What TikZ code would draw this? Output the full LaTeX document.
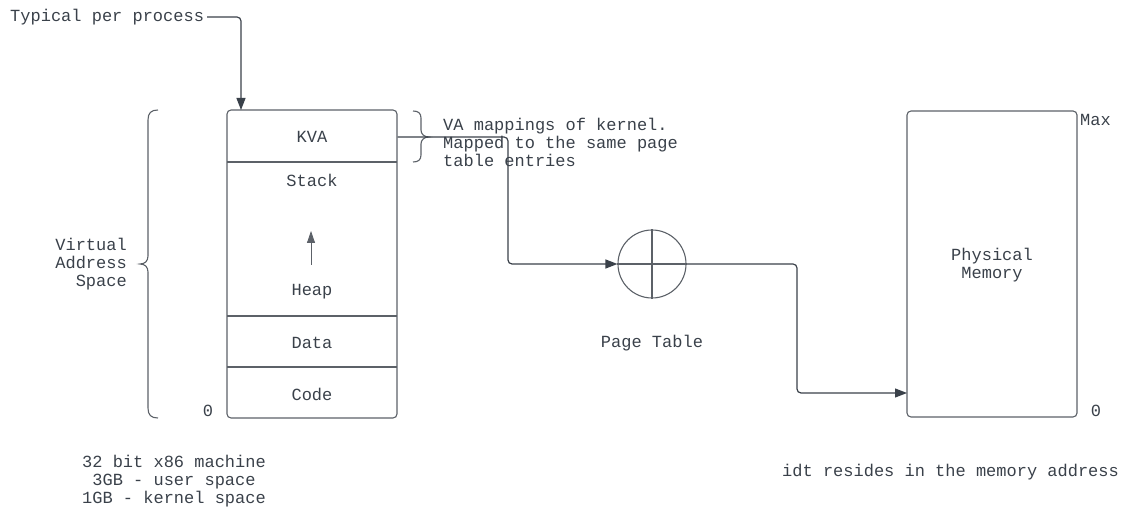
\documentclass[tikz,border=0pt]{standalone}
\usepackage{fontspec}
\setmainfont{Liberation Mono}
\usetikzlibrary{arrows.meta}
\definecolor{ink}{HTML}{3A414A}
\definecolor{edge}{HTML}{5C6168}
\tikzset{
  every node/.style={font=\fontsize{17}{18}\selectfont, text=ink, inner sep=0pt},
  memblock/.style={draw=edge, line width=1.1pt, rounded corners=4pt, minimum width=170pt},
  divider/.style={draw=edge, line width=1.1pt},
  conn/.style={draw=ink, line width=1.2pt, rounded corners=4pt, -{Triangle[length=12pt,width=9pt]}},
  bracket/.style={draw=edge, line width=1.1pt},
  growarrow/.style={draw=edge, line width=0.8pt, -{Triangle[length=12pt,width=8pt]}},
  lbl/.style={align=center}
}
\begin{document}
\begin{tikzpicture}[x=1pt, y=-1pt]
\useasboundingbox (0,0) rectangle (1122,510);

% process address-space column
\node[memblock, minimum height=308pt] (proc) at (312,264) {};
\draw[divider] (227,162) -- (397,162);
\draw[divider] (227,316) -- (397,316);
\draw[divider] (227,367) -- (397,367);
\node (kva) at (312,137) {KVA};
\node (stack) at (312,180) {Stack};
\node (heap) at (312,292) {Heap};
\node (data) at (312,343) {Data};
\node (code) at (312,394) {Code};
\coordinate (heapgrow) at (311,265);
\coordinate (stackgrow) at (311,231);
\draw[growarrow] (heapgrow) -- (stackgrow);
\node (zeroL) at (208,411) {0};

% brace for the whole virtual address space
\draw[bracket] (158,110) .. controls (151,110) and (148,113) .. (148,120)
  -- (148,256) .. controls (148,261) and (145,264) .. (140,264)
  .. controls (145,264) and (148,267) .. (148,272)
  -- (148,408) .. controls (148,415) and (151,418) .. (158,418);
\node[align=right, anchor=east] (vas) at (127,264) {Virtual\\Address\\Space};

% brace for the kernel mapping
\draw[bracket] (413,111) .. controls (418,111) and (421,113) .. (421,118)
  -- (421,130) .. controls (421,134) and (424,137) .. (429,137)
  .. controls (424,137) and (421,140) .. (421,144)
  -- (421,155) .. controls (421,160) and (418,162) .. (413,162);
\node[align=left, anchor=west] (vamap) at (443,142) {VA mappings of kernel.\\Mapped to the same page\\table entries};

% heading label
\node[anchor=west] (tpp) at (10,17) {Typical per process};
\coordinate (tpin) at (241,110);
\draw[conn] ([xshift=3pt]tpp.east) -| (tpin);

% page table
\node[circle, draw=edge, line width=1.1pt, minimum size=68pt] (pt) at (652,264) {};
\draw[divider] (pt.north) -- (pt.south);
\draw[divider] (pt.west) -- (pt.east);
\node (ptl) at (652,343) {Page Table};

% physical memory
\node[memblock, minimum height=306pt] (pm) at (992,264) {};
\node[lbl] (pml) at (992,265) {Physical\\Memory};
\node[anchor=west] (maxl) at (1080,120) {Max};
\node (zeroR) at (1096,411) {0};

% translation path
\coordinate (bend1) at (508,137);
\draw[conn] (kva -| proc.east) -- (bend1) |- (pt.west);
\coordinate (bend2) at (797,264);
\coordinate (pmin) at (907,393);
\draw[conn] (pt.east) -- (bend2) |- (pmin);

% notes
\node[lbl] (arch) at (174,481) {32 bit x86 machine\\3GB - user space\\1GB - kernel space};
\node[anchor=west] (idt) at (782,472) {idt resides in the memory address};
\end{tikzpicture}
\end{document}
